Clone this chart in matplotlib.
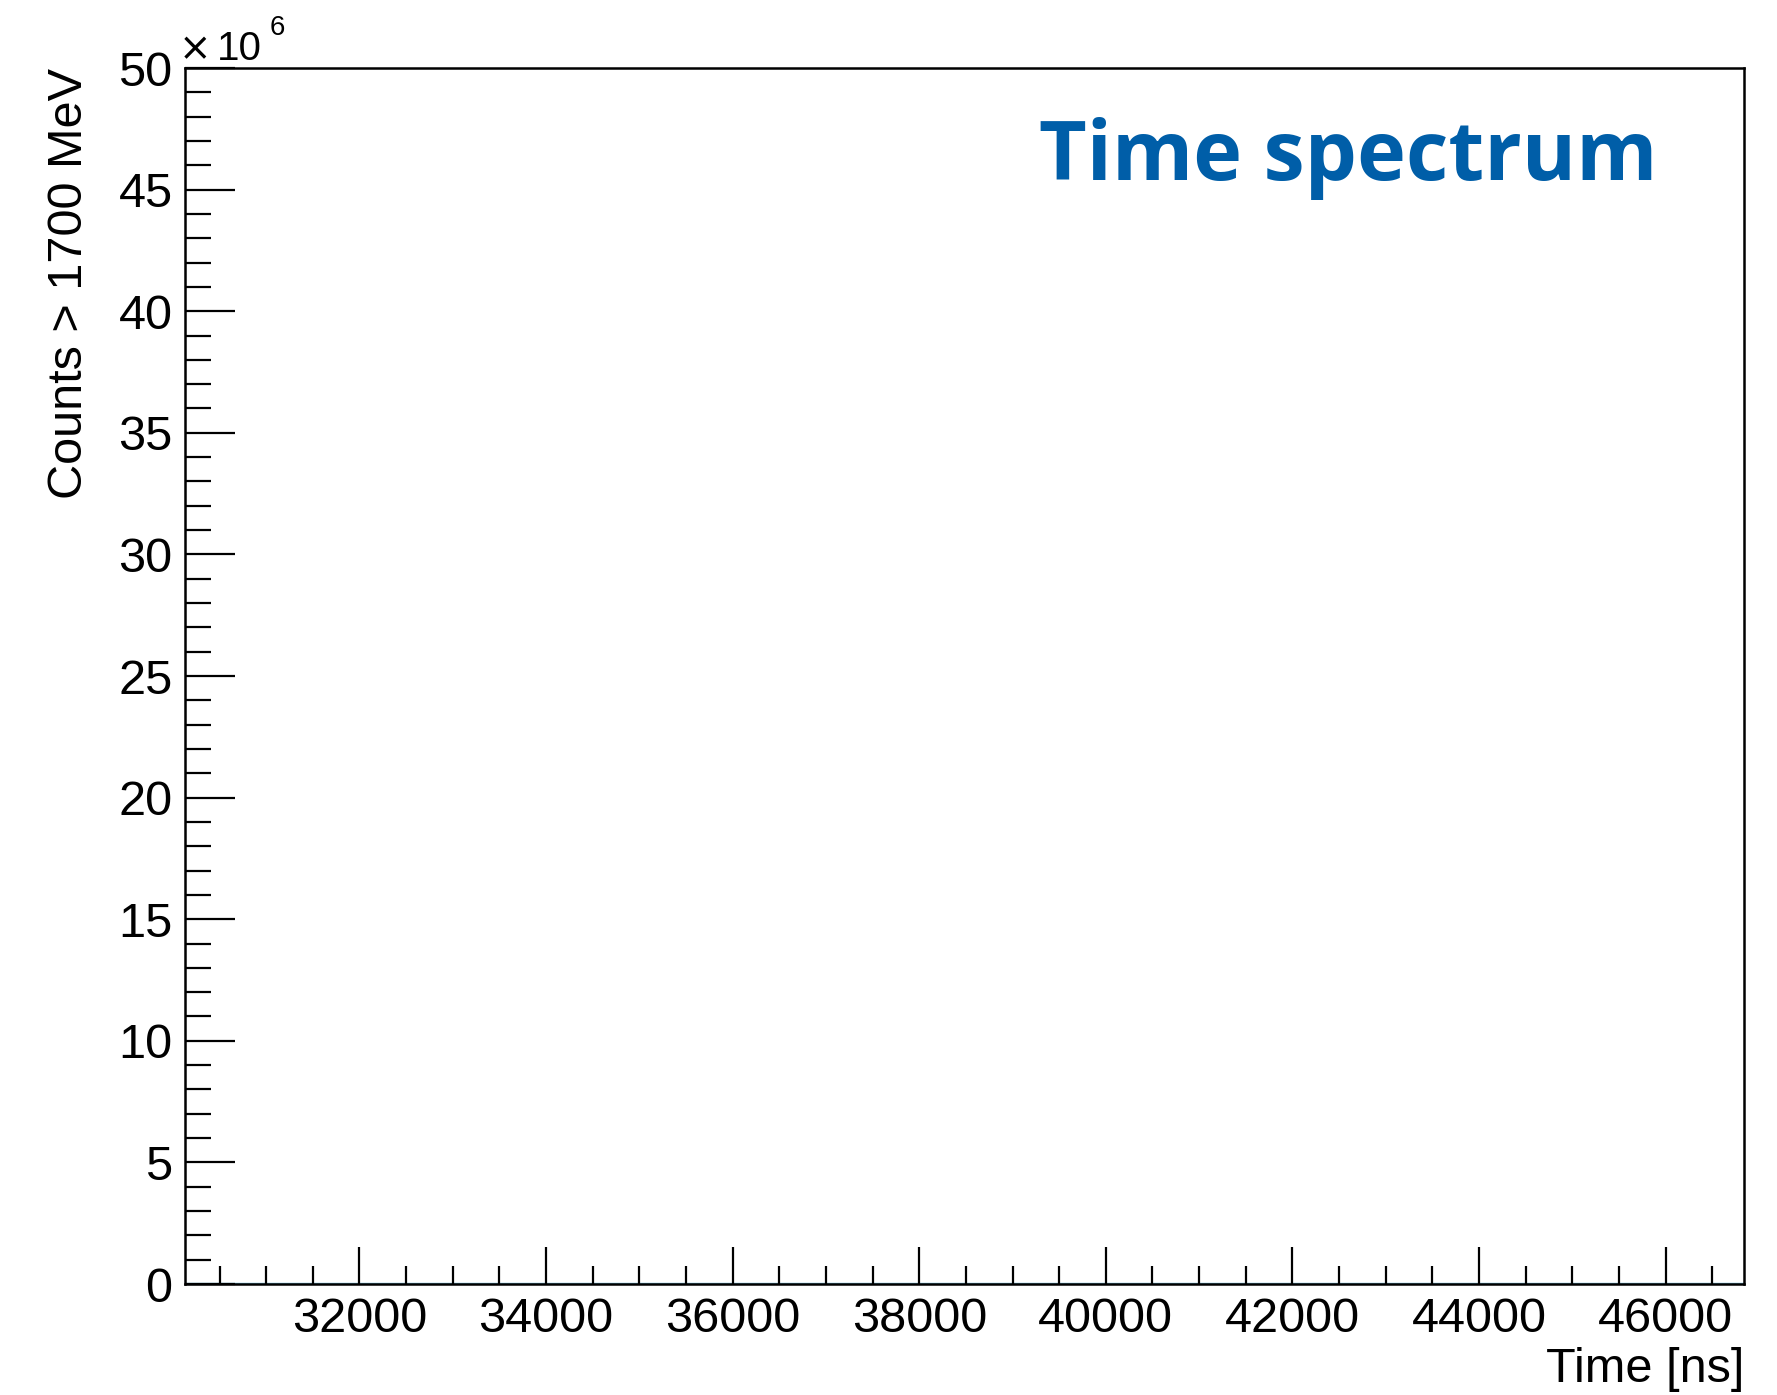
import matplotlib.pyplot as plt
from matplotlib.ticker import MultipleLocator, FuncFormatter

# histogram of counts above 1700 MeV (all bins essentially empty on this scale)
bin_edges = [30130, 34000, 38000, 42000, 46840]
counts = [0, 0, 0, 0]

x_range = (30130, 46840)
y_range = (0, 50e6)

title = "Time spectrum"
x_label = "Time [ns]"
y_label = "Counts > 1700 MeV"

plt.rcParams['font.family'] = ['Liberation Sans', 'DejaVu Sans']

fig = plt.figure(figsize=(17.77, 13.95), dpi=100)
ax = fig.add_axes([185 / 1777, 1 - 1284 / 1395, (1744 - 185) / 1777, (1284 - 68) / 1395])

ax.stairs(counts, bin_edges, color="#7cc3e0", linewidth=2.5, baseline=None)

ax.set_xlim(*x_range)
ax.set_ylim(*y_range)

ax.xaxis.set_major_locator(MultipleLocator(2000))
ax.xaxis.set_minor_locator(MultipleLocator(500))
ax.yaxis.set_major_locator(MultipleLocator(5e6))
ax.yaxis.set_minor_locator(MultipleLocator(1e6))
ax.yaxis.set_major_formatter(FuncFormatter(lambda v, p: f"{v / 1e6:.0f}"))

ax.tick_params(axis='both', which='both', direction='in', labelsize=35, width=1.6, color='black')
ax.tick_params(axis='y', which='major', length=36, pad=9)
ax.tick_params(axis='y', which='minor', length=19)
ax.tick_params(axis='x', which='major', length=27, pad=9)
ax.tick_params(axis='x', which='minor', length=13)

for s in ax.spines.values():
    s.set_linewidth(1.8)

ax.set_xlabel(x_label, fontsize=35, loc='right', labelpad=4)
ax.set_ylabel(y_label, fontsize=35, loc='top', labelpad=19)

# ROOT-style exponent above the y axis
ax.text(-0.004, 1.0066, "\u00d7", transform=ax.transAxes, fontsize=28,
        ha='left', va='baseline', family=['DejaVu Sans'])
ax.text(0.0205, 1.0066, "10", transform=ax.transAxes, fontsize=29,
        ha='left', va='baseline')
ax.text(0.0545, 1.0271, "6", transform=ax.transAxes, fontsize=20,
        ha='left', va='baseline')

ax.text(0.9442, 0.9079, title, transform=ax.transAxes, fontsize=59.5, fontweight='bold',
        color="#005ea8", ha='right', va='baseline', family=['Open Sans', 'DejaVu Sans'])

fig.savefig("out.png", dpi=100)
